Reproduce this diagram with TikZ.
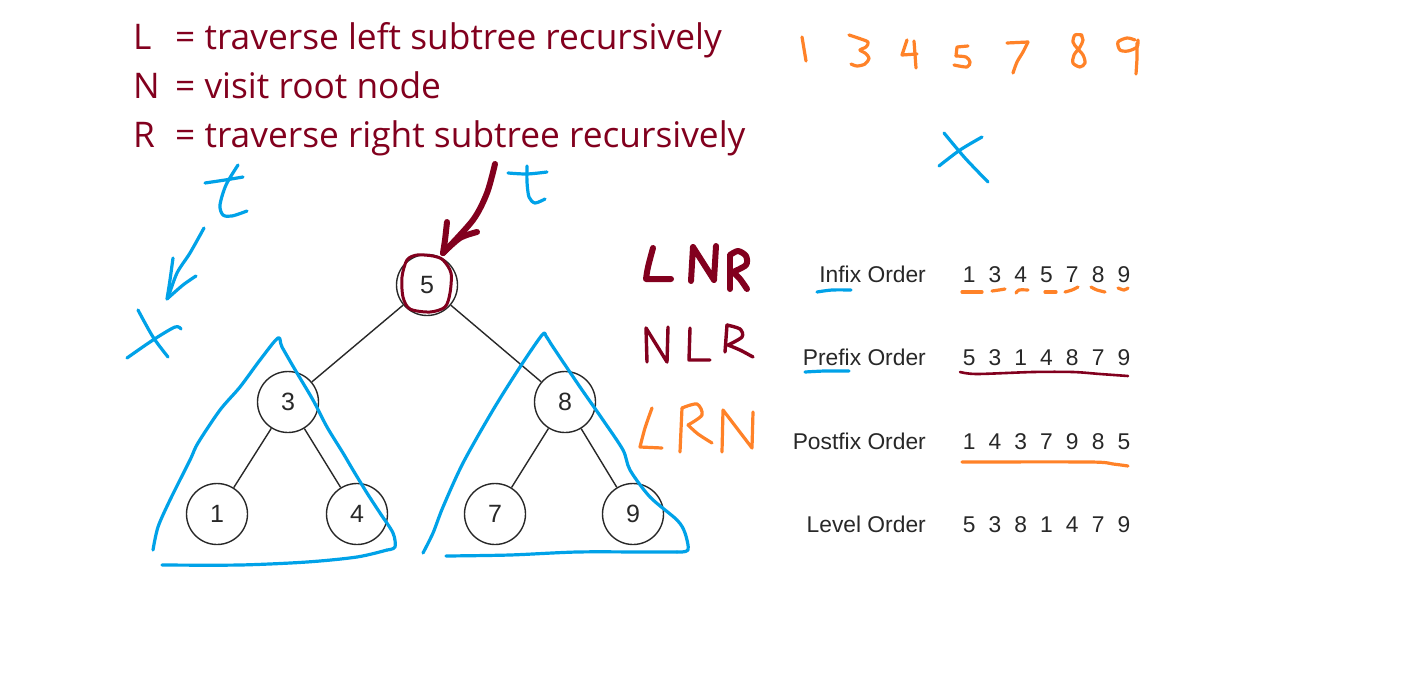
\documentclass[tikz,border=0pt]{standalone}
\usepackage{fontspec}
\setmainfont{Open Sans}
\newfontfamily\arialf{Liberation Sans}
\definecolor{dred}{RGB}{130,0,30}
\definecolor{penorange}{RGB}{255,130,40}
\definecolor{penblue}{RGB}{0,162,232}
\definecolor{inkgray}{RGB}{40,40,40}
\newcommand\dd[1]{\makebox[25.8pt]{#1}}
\newcommand\lbl[1]{\makebox[42pt][l]{#1}}
\begin{document}
\begin{tikzpicture}[x=1pt,y=-1pt,
  pen/.style={line cap=round,line join=round},
  bluepen/.style={pen,draw=penblue,line width=3.2pt},
  orangepen/.style={pen,draw=penorange,line width=3.2pt},
  redthick/.style={pen,draw=dred,line width=6pt},
  redthin/.style={pen,draw=dred,line width=3.4pt},
  treenode/.style={circle,draw=inkgray,line width=1.4pt,minimum size=61pt,inner sep=0pt,font=\arialf\fontsize{25}{29}\selectfont,text=inkgray},
  treeedge/.style={draw=inkgray,line width=1.4pt},
  legend/.style={anchor=base west,inner sep=0pt,text=dred,font=\fontsize{35.3}{40}\selectfont},
  ordlabel/.style={anchor=base east,inner sep=0pt,text=inkgray,font=\arialf\fontsize{22.8}{26}\selectfont},
  ordseq/.style={anchor=base west,inner sep=0pt,text=inkgray,font=\arialf\fontsize{22.8}{26}\selectfont}]
\path[use as bounding box,fill=white] (0,0) rectangle (1416,672);

% legend
\node[legend] (lL) at (133,49) {\lbl{L}= traverse left subtree recursively};
\node[legend] (lN) at (133,98) {\lbl{N}= visit root node};
\node[legend] (lR) at (133,147) {\lbl{R}= traverse right subtree recursively};

% tree
\node[treenode] (n5) at (427,285) {5};
\node[treenode] (n3) at (288,402) {3};
\node[treenode] (n8) at (565,402) {8};
\node[treenode] (n1) at (217,514) {1};
\node[treenode] (n4) at (357,514) {4};
\node[treenode] (n7) at (495,514) {7};
\node[treenode] (n9) at (633,514) {9};
\draw[treeedge] (n5) -- (n3);
\draw[treeedge] (n5) -- (n8);
\draw[treeedge] (n3) -- (n1);
\draw[treeedge] (n3) -- (n4);
\draw[treeedge] (n8) -- (n7);
\draw[treeedge] (n8) -- (n9);

% order table
\node[ordlabel] (infix) at (926,282) {Infix Order};
\node[ordlabel] (prefix) at (926,365) {Prefix Order};
\node[ordlabel] (postfix) at (926,449) {Postfix Order};
\node[ordlabel] (level) at (926,532) {Level Order};
\node[ordseq] (sinfix) at (956,282) {\dd1\dd3\dd4\dd5\dd7\dd8\dd9};
\node[ordseq] (sprefix) at (956,365) {\dd5\dd3\dd1\dd4\dd8\dd7\dd9};
\node[ordseq] (spostfix) at (956,449) {\dd1\dd4\dd3\dd7\dd9\dd8\dd5};
\node[ordseq] (slevel) at (956,532) {\dd5\dd3\dd8\dd1\dd4\dd7\dd9};

% red annotations: circle round root and arrow
\draw[redthin,line width=3pt] plot[smooth cycle] coordinates {(417,255)(433,256)(443,260)(451,273)(450,293)(445,307)(430,312)(410,309)(403,297)(402,277)(407,260)};
\draw[redthick] plot[smooth] coordinates {(495,164)(487,193)(473,220)(443,253)};
\draw[redthick] plot[smooth] coordinates {(447,222)(445,240)(443,253)};
\draw[redthick] plot[smooth] coordinates {(477,232)(460,238)(443,253)};

% LNR
\draw[redthick] plot[smooth] coordinates {(653,248)(648,267)(646,279)} -- (671,279);
\draw[redthick] (691,281) -- (693,247) -- (714,280) -- (716,246);
\draw[redthick] (730,289) -- (730,256);
\draw[redthick] plot[smooth] coordinates {(730,255)(738,251)(746,256)(746,265)(733,272)};
\draw[redthick] plot[smooth] coordinates {(733,272)(740,279)(747,289)};
% NLR
\draw[redthin] (647,362) -- (646,328) -- (667,362) -- (668,327);
\draw[redthin] (690,328) -- (689,360) -- (710,360);
\draw[redthin] (725,352) -- (727,325);
\draw[redthin] plot[smooth] coordinates {(727,325)(740,329)(742,337)(728,345)};
\draw[redthin] plot[smooth] coordinates {(728,345)(740,350)(753,357)};
% LRN
\draw[orangepen] plot[smooth] coordinates {(652,408)(645,428)(640,447)} -- (662,448);
\draw[orangepen] (680,452) -- (682,408);
\draw[orangepen] plot[smooth] coordinates {(682,408)(697,404)(702,415)(688,425)};
\draw[orangepen] plot[smooth] coordinates {(688,425)(698,434)(712,443)};
\draw[orangepen] (722,452) -- (723,410) -- (752,448) -- (753,412);

% underlines
\draw[bluepen] plot[smooth] coordinates {(817,292)(832,290)(851,290)};
\draw[bluepen] plot[smooth] coordinates {(805,372)(825,371)(849,371)};
\draw[orangepen] (962,292) -- (982,292);
\draw[orangepen] plot[smooth] coordinates {(992,291)(999,290)(1005,289)};
\draw[orangepen] plot[smooth] coordinates {(1016,293)(1019,290)(1028,290)};
\draw[orangepen] (1045,292) -- (1056,292);
\draw[orangepen] plot[smooth] coordinates {(1065,292)(1072,290)(1078,287)};
\draw[orangepen] plot[smooth] coordinates {(1091,287)(1097,290)(1105,292)};
\draw[orangepen] plot[smooth] coordinates {(1118,288)(1124,290)(1128,288)};
\draw[redthin,line width=2.6pt] plot[smooth] coordinates {(960,372)(977,374)(1033,372)(1073,372)(1100,374)(1128,376)};
\draw[orangepen] plot[smooth] coordinates {(962,462)(1090,462)(1113,464)(1128,466)};

% blue annotations
\draw[bluepen] plot[smooth] coordinates {(205,183)(225,180)(243,177)};
\draw[bluepen] plot[smooth] coordinates {(238,165)(226,185)(220,205)(223,215)(232,216)(247,211)};
\draw[bluepen] plot[smooth] coordinates {(204,228)(190,253)(177,273)(168,298)};
\draw[bluepen] plot[smooth] coordinates {(173,258)(170,280)(167,299)};
\draw[bluepen] plot[smooth] coordinates {(196,276)(183,285)(167,299)};
\draw[bluepen] plot[smooth] coordinates {(138,310)(153,337)(168,357)};
\draw[bluepen] plot[smooth] coordinates {(127,358)(153,340)(175,327)(181,329)};
\draw[bluepen] plot[smooth] coordinates {(508,173)(527,174)(547,172)};
\draw[bluepen] plot[smooth] coordinates {(527,166)(527,182)(529,197)(535,203)(545,199)};
\draw[bluepen] plot[smooth] coordinates {(939,166)(960,150)(982,137)};
\draw[bluepen] plot[smooth] coordinates {(944,133)(965,158)(988,182)};
% triangles
\draw[bluepen] plot[smooth] coordinates {(153,550)(158,527)(170,500)(190,460)(198,443)(220,410)(240,387)(260,360)(278,338)(282,347)(297,373)(313,400)(327,427)(343,453)(353,470)(367,493)(380,513)(393,533)(395,547)(387,550)};
\draw[bluepen] plot[smooth] coordinates {(162,565)(240,565)(307,562)(357,557)(387,550)};
\draw[bluepen] plot[smooth] coordinates {(423,553)(433,533)(443,507)(463,463)(493,410)(520,367)(542,335)(546,336)(553,347)(580,387)(603,420)(623,450)(630,470)(650,497)(677,520)(685,533)(688,550)(677,552)};
\draw[bluepen] plot[smooth] coordinates {(446,556)(510,555)(577,552)(643,552)(677,552)};

% orange digits at top
\draw[orangepen] (802,37) -- (806,61);
\draw[orangepen] plot[smooth] coordinates {(849,35)(858,38)(868,42)(866,47)(860,50)(865,53)(869,58)(865,64)(857,66)(851,64)};
\draw[orangepen] (907,40) -- (902,55) -- (917,54);
\draw[orangepen] (914,41) -- (916,68);
\draw[orangepen] (968,46) -- (957,47) -- (956,56);
\draw[orangepen] plot[smooth] coordinates {(956,56)(966,57)(970,62)(967,67)(954,65)};
\draw[orangepen] (1007,43) -- (1028,42);
\draw[orangepen] plot[smooth] coordinates {(1028,42)(1023,52)(1017,62)(1013,73)};
\draw[orangepen] plot[smooth] coordinates {(1082,35)(1075,35)(1073,42)(1077,48)(1083,55)(1085,63)(1080,67)(1073,63)(1074,55)(1080,47)(1083,40)(1081,35)};
\draw[orangepen] plot[smooth] coordinates {(1135,40)(1127,38)(1118,42)(1120,50)(1128,51)(1137,47)(1138,40)};
\draw[orangepen] plot[smooth] coordinates {(1137,43)(1137,58)(1136,74)};
\end{tikzpicture}
\end{document}
